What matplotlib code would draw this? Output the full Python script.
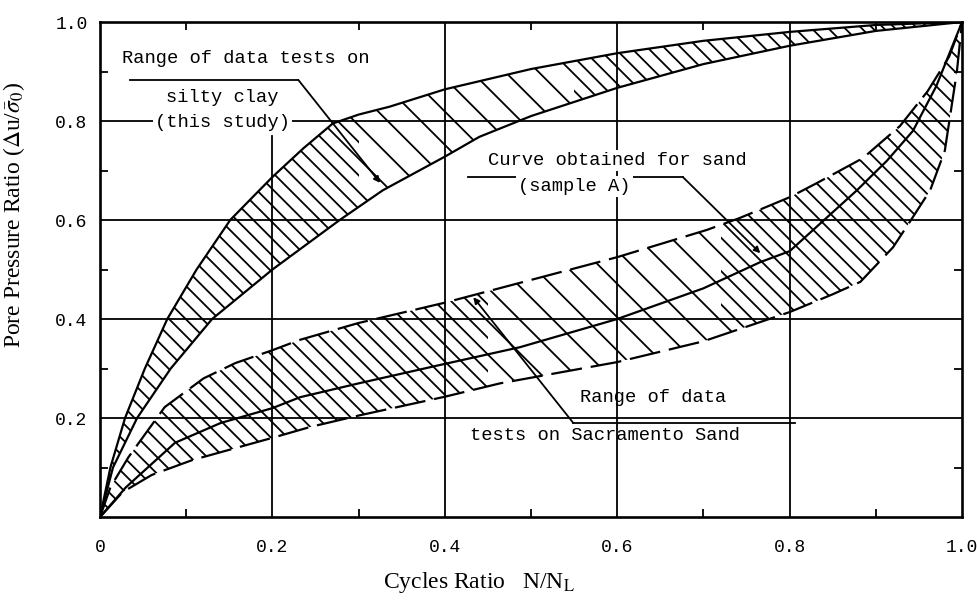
import numpy as np
import matplotlib
matplotlib.use("Agg")
import matplotlib.pyplot as plt
from matplotlib.patches import Rectangle

plt.rcParams['font.family'] = ['Liberation Serif', 'DejaVu Serif']
plt.rcParams['mathtext.fontset'] = 'stix'
plt.rcParams['hatch.linewidth'] = 1.3

## Data (x = N/NL, y = pore pressure ratio)

# silty clay band (this study)
clay_up_x = [0, 0.012, 0.029, 0.052, 0.078, 0.112, 0.151, 0.2, 0.236, 0.27, 0.3, 0.336, 0.4, 0.5, 0.6, 0.7, 0.8, 0.9, 1.0]
clay_up_y = [0, 0.10, 0.20, 0.30, 0.40, 0.50, 0.60, 0.687, 0.745, 0.795, 0.813, 0.829, 0.864, 0.905, 0.937, 0.962, 0.98, 0.994, 1.0]
clay_lo_x = [0, 0.015, 0.043, 0.082, 0.13, 0.2, 0.278, 0.328, 0.4, 0.44, 0.5, 0.6, 0.7, 0.8, 0.9, 1.0]
clay_lo_y = [0, 0.10, 0.20, 0.30, 0.40, 0.50, 0.60, 0.66, 0.728, 0.768, 0.81, 0.867, 0.915, 0.952, 0.982, 1.0]

# Sacramento sand range
sand_up_x = [0, 0.012, 0.033, 0.075, 0.12, 0.157, 0.2, 0.232, 0.3, 0.4, 0.487, 0.6, 0.704, 0.742, 0.8, 0.832, 0.885, 0.928, 0.96, 0.985, 1.0]
sand_up_y = [0, 0.06, 0.121, 0.222, 0.28, 0.311, 0.337, 0.358, 0.392, 0.433, 0.473, 0.525, 0.58, 0.604, 0.646, 0.675, 0.725, 0.79, 0.86, 0.93, 1.0]
sand_lo_x = [0, 0.026, 0.06, 0.107, 0.2, 0.244, 0.3, 0.4, 0.464, 0.6, 0.7, 0.8, 0.85, 0.882, 0.92, 0.943, 0.963, 0.98, 0.994, 1.0]
sand_lo_y = [0, 0.05, 0.085, 0.115, 0.16, 0.182, 0.205, 0.243, 0.27, 0.313, 0.355, 0.414, 0.45, 0.475, 0.545, 0.606, 0.66, 0.74, 0.9, 1.0]

# curve obtained for sand (sample A)
samp_x = [0, 0.03, 0.087, 0.14, 0.2, 0.232, 0.3, 0.394, 0.487, 0.6, 0.7, 0.766, 0.8, 0.84, 0.878, 0.913, 0.943, 0.97, 1.0]
samp_y = [0, 0.06, 0.15, 0.19, 0.22, 0.242, 0.27, 0.307, 0.343, 0.40, 0.462, 0.515, 0.537, 0.60, 0.66, 0.72, 0.78, 0.87, 1.0]

# hatch density along each band: (from x, to x, hatch)
clay_hatch = [(0.0, 0.30, '\\\\'), (0.30, 0.55, '\\'), (0.55, 0.88, '\\\\'), (0.88, 1.0, '\\\\\\')]
sand_hatch = [(0.0, 0.45, '\\\\'), (0.45, 0.72, '\\'), (0.72, 1.0, '\\\\')]

x_ticks = [0, 0.2, 0.4, 0.6, 0.8, 1.0]
x_labels = ['0', '0.2', '0.4', '0.6', '0.8', '1.0']
y_ticks = [0.2, 0.4, 0.6, 0.8, 1.0]
y_labels = ['0.2', '0.4', '0.6', '0.8', '1.0']
minor_ticks = [0.1, 0.3, 0.5, 0.7, 0.9]
grid_pos = [0.2, 0.4, 0.6, 0.8]

mono = 'Liberation Mono'

fig = plt.figure(figsize=(9.77, 6.03), dpi=100)
ax = fig.add_axes([0.1024, 0.1426, 0.8823, 0.8209])
ax.set_xlim(0, 1)
ax.set_ylim(0, 1)

## grid (0.2 vertical stops under the top-left note)
for g in grid_pos:
    ax.axhline(g, color='black', lw=1.3, zorder=1)
    ax.axvline(g, ymax=0.77 if g == 0.2 else 1.0, color='black', lw=1.3, zorder=1)

## hatched bands
def band(ux, uy, lx, ly, parts):
    px = np.concatenate([ux, lx[::-1]])
    py = np.concatenate([uy, ly[::-1]])
    for x0, x1, h in parts:
        poly = ax.fill(px, py, facecolor='none', edgecolor='black', lw=0, hatch=h, zorder=2)[0]
        clip = Rectangle((x0, 0), x1 - x0, 1, transform=ax.transData)
        poly.set_clip_path(clip)

band(clay_up_x, clay_up_y, clay_lo_x, clay_lo_y, clay_hatch)
band(sand_up_x, sand_up_y, sand_lo_x, sand_lo_y, sand_hatch)

ax.plot(clay_up_x, clay_up_y, color='black', lw=1.6, zorder=3)
ax.plot(clay_lo_x, clay_lo_y, color='black', lw=1.6, zorder=3)
ax.plot(sand_up_x, sand_up_y, color='black', lw=1.6, dashes=(14, 4), zorder=3)
ax.plot(sand_lo_x, sand_lo_y, color='black', lw=1.6, dashes=(14, 4), zorder=3)
ax.plot(samp_x, samp_y, color='black', lw=1.6, zorder=3)

## notes and leaders
box = dict(facecolor='white', edgecolor='none', pad=1.5)
tkw = dict(family=mono, fontsize=13.5, va='center', zorder=5)
ax.text(0.025, 0.927, 'Range of data tests on', ha='left', bbox=box, **tkw)
ax.text(0.142, 0.847, 'silty clay', ha='center', bbox=box, **tkw)
ax.text(0.142, 0.798, '(this study)', ha='center', bbox=box, **tkw)
ax.text(0.450, 0.721, 'Curve obtained for sand', ha='left', bbox=box, **tkw)
ax.text(0.485, 0.668, '(sample A)', ha='left', bbox=box, **tkw)
ax.text(0.557, 0.242, 'Range of data', ha='left', **tkw)
ax.text(0.429, 0.165, 'tests on Sacramento Sand', ha='left', **tkw)

lkw = dict(color='black', lw=1.3, zorder=4)
arr = dict(arrowstyle='-|>', color='black', lw=1.3, mutation_scale=9, shrinkA=0, shrinkB=0)
ax.plot([0.035, 0.230], [0.883, 0.883], **lkw)
ax.annotate('', xy=(0.325, 0.675), xytext=(0.230, 0.883), arrowprops=arr, zorder=4)
ax.plot([0.427, 0.676], [0.687, 0.687], **lkw)
ax.annotate('', xy=(0.766, 0.533), xytext=(0.676, 0.687), arrowprops=arr, zorder=4)
ax.plot([0.549, 0.806], [0.19, 0.19], **lkw)
ax.annotate('', xy=(0.433, 0.444), xytext=(0.549, 0.19), arrowprops=arr, zorder=4)

## axes, ticks, labels
for s in ax.spines.values():
    s.set_linewidth(1.9)
    s.set_zorder(6)

ax.set_xticks(x_ticks)
ax.set_xticklabels(x_labels, family=mono, fontsize=13)
ax.set_yticks(y_ticks)
ax.set_yticklabels(y_labels, family=mono, fontsize=13)
ax.set_xticks(minor_ticks, minor=True)
ax.set_yticks(minor_ticks, minor=True)
ax.tick_params(which='major', length=0)
ax.tick_params(axis='x', which='major', pad=16)
ax.tick_params(axis='y', which='major', pad=9)
ax.tick_params(which='minor', direction='in', length=6, width=1.3,
               top=True, right=True, bottom=True, left=True)

ax.set_xlabel(r'Cycles Ratio   N/N$_{\rm L}$', fontsize=17)
ax.xaxis.set_label_coords(0.44, -0.108)
ax.set_ylabel(r'Pore Pressure Ratio ($\Delta$u/$\bar{\sigma}_0$)', fontsize=17)
ax.yaxis.set_label_coords(-0.085, 0.61)

fig.savefig('out.png', dpi=100)
